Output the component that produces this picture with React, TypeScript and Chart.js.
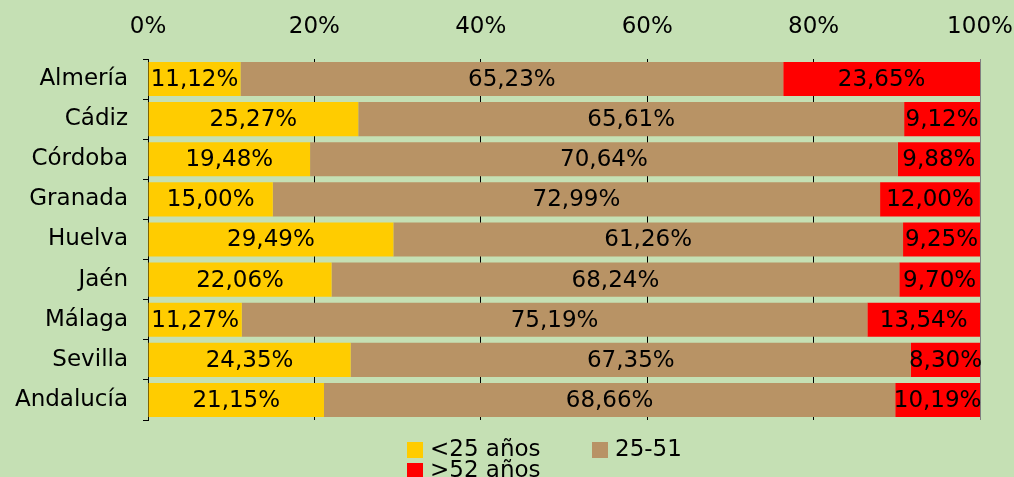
import React, { useEffect, useRef } from "react";
import { Chart, registerables } from "chart.js";

Chart.register(...registerables);

const categories = ["Almería", "Cádiz", "Córdoba", "Granada", "Huelva", "Jaén", "Málaga", "Sevilla", "Andalucía"];
const under25 = [11.12, 25.27, 19.48, 15.0, 29.49, 22.06, 11.27, 24.35, 21.15];
const from25to51 = [65.23, 65.61, 70.64, 72.99, 61.26, 68.24, 75.19, 67.35, 68.66];
const over52 = [23.65, 9.12, 9.88, 12.0, 9.25, 9.7, 13.54, 8.3, 10.19];
const seriesLabels = ["<25 años", "25-51", ">52 años"];
const seriesColors = ["#FFCC00", "#B89365", "#FF0000"];
const xTicks = [0, 20, 40, 60, 80, 100];

const FONT = "'DejaVu Sans', Verdana, sans-serif";
const FONT_SIZE = 23;
const BG = "#C5E0B4";

const fmt = (v: number) => v.toFixed(2).replace(".", ",") + "%";

const bgPlugin = {
  id: "bgFill",
  beforeDraw(chart: any) {
    const ctx = chart.ctx;
    ctx.save();
    ctx.fillStyle = BG;
    ctx.fillRect(0, 0, chart.width, chart.height);
    ctx.restore();
  },
};

const labelPlugin = {
  id: "barLabels",
  afterDatasetsDraw(chart: any) {
    const ctx = chart.ctx;
    ctx.save();
    ctx.font = `${FONT_SIZE}px ${FONT}`;
    ctx.fillStyle = "#000";
    ctx.textAlign = "center";
    ctx.textBaseline = "middle";
    chart.data.datasets.forEach((ds: any, di: number) => {
      const meta = chart.getDatasetMeta(di);
      meta.data.forEach((bar: any, i: number) => {
        const cx = (bar.x + bar.base) / 2;
        ctx.fillText(fmt(ds.data[i]), cx, bar.y + 1);
      });
    });
    ctx.restore();
  },
};

const legendPlugin = {
  id: "customLegend",
  afterDraw(chart: any) {
    const ctx = chart.ctx;
    const items = [
      { x: 407, y: 450 },
      { x: 592, y: 450 },
      { x: 407, y: 471 },
    ];
    ctx.save();
    ctx.font = `${FONT_SIZE}px ${FONT}`;
    ctx.textBaseline = "middle";
    ctx.textAlign = "left";
    chart.data.datasets.forEach((ds: any, i: number) => {
      const p = items[i];
      ctx.fillStyle = ds.backgroundColor;
      ctx.fillRect(p.x, p.y - 8, 16, 16);
      ctx.fillStyle = "#000";
      ctx.fillText(ds.label, p.x + 23, p.y);
    });
    ctx.restore();
  },
};

export default function App() {
  const ref = useRef<HTMLCanvasElement | null>(null);

  useEffect(() => {
    document.body.style.margin = "0";
    if (!ref.current) return;
    const values = [under25, from25to51, over52];
    const chart = new Chart(ref.current, {
      type: "bar",
      data: {
        labels: categories,
        datasets: seriesLabels.map((label, i) => ({
          label,
          data: values[i],
          backgroundColor: seriesColors[i],
          borderWidth: 0,
          barPercentage: 0.85,
          categoryPercentage: 1,
        })),
      },
      options: {
        indexAxis: "y",
        responsive: false,
        animation: false,
        layout: { padding: { left: 0, right: 34, top: 0, bottom: 57 } },
        plugins: {
          legend: { display: false },
          tooltip: { enabled: false },
        },
        scales: {
          x: {
            position: "top",
            stacked: true,
            min: 0,
            max: 100,
            afterBuildTicks: (scale: any) => {
              scale.ticks = xTicks.map((v) => ({ value: v }));
            },
            afterFit: (scale: any) => {
              scale.height = 59;
              scale.paddingLeft = 0;
              scale.paddingRight = 0;
            },
            border: { display: false },
            grid: {
              drawTicks: false,
              color: (c: any) => (c.tick && c.tick.value === 100 ? "#808080" : "#000000"),
              lineWidth: 1,
            },
            ticks: {
              padding: 18,
              color: "#000",
              font: { family: FONT, size: FONT_SIZE },
              callback: (v: any) => v + "%",
            },
          },
          y: {
            stacked: true,
            afterFit: (scale: any) => {
              scale.width = 148;
            },
            border: { display: true, color: "#000", width: 1 },
            grid: {
              offset: true,
              drawOnChartArea: false,
              drawTicks: true,
              tickLength: 5,
              color: "#000",
            },
            ticks: {
              padding: 15,
              color: "#000",
              font: { family: FONT, size: FONT_SIZE },
            },
          },
        },
      },
      plugins: [bgPlugin, labelPlugin, legendPlugin],
    });
    return () => chart.destroy();
  }, []);

  return (
    <div style={{ width: 1014, height: 477 }}>
      <canvas ref={ref} width={1014} height={477} style={{ display: "block" }} />
    </div>
  );
}
